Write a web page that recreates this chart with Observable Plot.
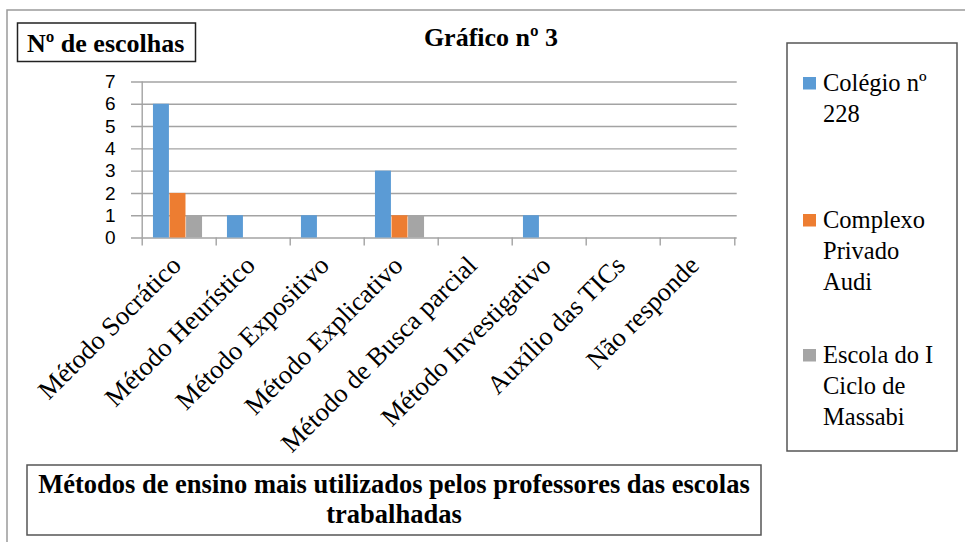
<!DOCTYPE html>
<html><head><meta charset="utf-8">
<script src="https://cdn.jsdelivr.net/npm/d3@7"></script>
<script src="https://cdn.jsdelivr.net/npm/@observablehq/plot@0.6"></script>
<style>
html,body{margin:0;padding:0;background:#fff;overflow:hidden}
#wrap{position:relative;width:965px;height:542px;overflow:hidden;background:#fff}
#wrap > svg{position:absolute;left:0;top:0}
g[aria-label="x-axis tick label"] text{font-family:"Liberation Serif","Times New Roman",serif;font-size:26.5px;fill:#000}
g[aria-label="y-axis tick label"] text{font-family:"Liberation Sans",Arial,sans-serif;font-size:19px;fill:#000}
.serif{font-family:"Liberation Serif","Times New Roman",serif;fill:#000}
</style></head><body><div id="wrap"></div>
<script>
// ---- data ----
const categories = ["Método Socrático","Método Heurístico","Método Expositivo","Método Explicativo","Método de Busca parcial","Método Investigativo","Auxílio das TICs","Não responde"];
const seriesNames = ["Colégio nº 228","Complexo Privado Audi","Escola do I Ciclo de Massabi"];
const colegio228 = [6,1,1,3,0,1,0,0];
const complexoAudi = [2,0,0,1,0,0,0,0];
const escolaMassabi = [1,0,0,1,0,0,0,0];
const yTicks = [0,1,2,3,4,5,6,7];
const seriesColors = ["#5b9bd5","#ed7d31","#a5a5a5"];
const legendLines = [["Colégio nº","228"],["Complexo","Privado","Audi"],["Escola do I","Ciclo de","Massabi"]];
const titleText = "Gráfico nº 3";
const yTitleText = "Nº de escolhas";
const captionLines = ["Métodos de ensino mais utilizados pelos professores das escolas","trabalhadas"];

// ---- layout ----
const W = 965, H = 542;
const mL = 140, mR = 228.3, mT = 81.5, mB = 304.5;
const step = (W - mL - mR) / categories.length;
const barW = step * 0.222;
const groupPad = (step - 3 * barW) / 2 - 1.5;
const gridColor = "#a3a3a3";

const seriesArrays = [colegio228, complexoAudi, escolaMassabi];
const barMarks = seriesArrays.map((arr, k) =>
  Plot.barY(
    categories.map((c, i) => ({category: c, value: arr[i], series: seriesNames[k]})).filter(d => d.value > 0),
    {x: "category", y: "value", fill: seriesColors[k],
     insetLeft: groupPad + k * barW, insetRight: step - groupPad - (k + 1) * barW}
  )
);

const plot = Plot.plot({
  width: W, height: H,
  marginLeft: mL, marginRight: mR, marginTop: mT, marginBottom: mB,
  style: {background: "transparent", overflow: "visible"},
  x: {type: "band", domain: categories, padding: 0, label: null},
  y: {domain: [0, 7], label: null},
  marks: [
    Plot.ruleY(yTicks, {y: d => d, stroke: gridColor, strokeWidth: 1.4, insetLeft: -9}),
    ...barMarks,
    Plot.ruleX([categories[0]], {x: d => d, dx: -step / 2, y1: 0, y2: 7, stroke: gridColor, strokeWidth: 1.4}),
    Plot.ruleX(categories, {x: d => d, dx: -step / 2, y1: 0, y2: 0, insetBottom: -8, stroke: gridColor, strokeWidth: 1.4}),
    Plot.ruleX([categories[categories.length - 1]], {x: d => d, dx: step / 2, y1: 0, y2: 0, insetBottom: -8, stroke: gridColor, strokeWidth: 1.4}),
    Plot.axisY({ticks: yTicks, tickFormat: "d", tickSize: 0, tickPadding: 25, label: null}),
    Plot.axisX({tickSize: 0, tickPadding: 23, tickRotate: -45, label: null, dx: -3})
  ]
});
document.getElementById("wrap").appendChild(plot);

// ---- overlay: frame, title, boxes, legend, caption ----
const o = d3.select("#wrap").append("svg").attr("width", W).attr("height", H).style("pointer-events", "none");
o.append("rect").attr("x", 7).attr("y", 10).attr("width", 975).attr("height", 550)
  .attr("fill", "none").attr("stroke", "#9a9a9a").attr("stroke-width", 1.5);

o.append("text").attr("class", "serif").attr("x", 491).attr("y", 46).attr("text-anchor", "middle")
  .attr("font-weight", "bold").attr("font-size", 26).text(titleText);

o.append("rect").attr("x", 17.5).attr("y", 23).attr("width", 178).attr("height", 38.5)
  .attr("fill", "none").attr("stroke", "#222").attr("stroke-width", 1.5);
o.append("text").attr("class", "serif").attr("x", 27).attr("y", 52)
  .attr("font-weight", "bold").attr("font-size", 26).text(yTitleText);

// legend
o.append("rect").attr("x", 787).attr("y", 43).attr("width", 170).attr("height", 408)
  .attr("fill", "none").attr("stroke", "#555").attr("stroke-width", 1.5);
const legendBaselines = [[91, 122], [228, 259, 290], [363, 394, 425]];
legendLines.forEach((lines, k) => {
  const b0 = legendBaselines[k][0];
  o.append("rect").attr("x", 803).attr("y", b0 - 14).attr("width", 13).attr("height", 12.5).attr("fill", seriesColors[k]);
  lines.forEach((t, j) => {
    o.append("text").attr("class", "serif").attr("x", 823).attr("y", legendBaselines[k][j])
      .attr("font-size", 24.5).text(t);
  });
});

// caption
o.append("rect").attr("x", 27).attr("y", 465).attr("width", 734).attr("height", 70)
  .attr("fill", "#fff").attr("stroke", "#555").attr("stroke-width", 1.5);
captionLines.forEach((t, j) => {
  o.append("text").attr("class", "serif").attr("x", 394).attr("y", 493 + j * 30).attr("text-anchor", "middle")
    .attr("font-weight", "bold").attr("font-size", 26.5).text(t);
});
</script></body></html>
